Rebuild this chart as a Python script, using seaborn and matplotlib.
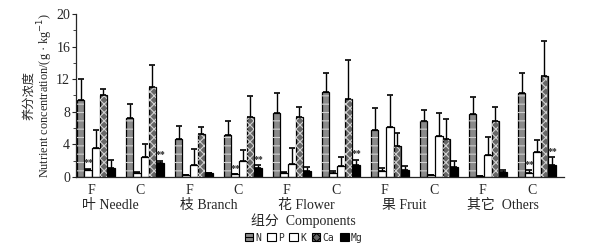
import pandas as pd
import matplotlib
matplotlib.use("Agg")
import matplotlib.pyplot as plt
from matplotlib.patches import Patch
import numpy as np
import seaborn as sb

# values (g/kg), order: Needle F, Needle C, Branch F, ...
organs = ["叶 Needle", "枝 Branch", "花 Flower", "果 Fruit", "其它  Others"]
treatments = ["F", "C"]
elements = ["N", "P", "K", "Ca", "Mg"]

N = [9.5, 7.2, 4.7, 5.1, 7.8, 10.4, 5.7, 6.8, 7.7, 10.3]
N_err = [2.5, 1.7, 1.5, 1.7, 2.5, 2.3, 2.7, 1.4, 2.1, 2.4]
P = [0.8, 0.5, 0.25, 0.3, 0.5, 0.5, 0.7, 0.2, 0.1, 0.5]
P_err = [0.2, 0.1, 0.0, 0.0, 0.1, 0.2, 0.4, 0.0, 0.0, 0.3]
K = [3.5, 2.4, 1.5, 2.0, 1.6, 1.3, 6.1, 5.0, 2.7, 3.0]
K_err = [2.2, 1.6, 1.9, 1.3, 2.0, 1.1, 3.9, 2.9, 2.2, 1.5]
Ca = [10.0, 11.0, 5.3, 7.3, 7.3, 9.6, 3.8, 4.6, 6.9, 12.4]
Ca_err = [0.8, 2.7, 0.8, 2.6, 1.3, 4.8, 1.6, 2.5, 1.7, 4.3]
Mg = [1.1, 1.7, 0.5, 1.1, 0.7, 1.5, 0.9, 1.2, 0.6, 1.5]
Mg_err = [1.0, 0.3, 0.0, 0.3, 0.5, 0.6, 0.4, 0.7, 0.3, 0.9]

# significance marks: (sample index, element)
stars = [(0, "P"), (1, "Mg"), (3, "P"), (3, "Mg"), (5, "Mg"), (9, "P"), (9, "Mg")]

samples = [o + "-" + t for o in organs for t in treatments]
vals = {"N": N, "P": P, "K": K, "Ca": Ca, "Mg": Mg}
errs = {"N": N_err, "P": P_err, "K": K_err, "Ca": Ca_err, "Mg": Mg_err}

rows = []
for el in elements:
    for s, v in zip(samples, vals[el]):
        rows.append({"sample": s, "element": el, "value": v})
df = pd.DataFrame(rows)

sb.set_style("ticks")
plt.rcParams["font.family"] = ["Liberation Serif", "Noto Sans CJK SC"]
plt.rcParams["hatch.linewidth"] = 0.8

fig = plt.figure(figsize=(6.01, 2.45), dpi=100)
ax = fig.add_axes([0.126, 0.278, 0.812, 0.665])

face = {"N": "#8a8a8a", "P": "white", "K": "white", "Ca": "#666666", "Mg": "black"}
hatch_style = {"N": ("--", "#cfcfcf"), "Ca": ("xxxx", "#d0d0d0")}

sb.barplot(data=df, x="sample", y="value", hue="element", order=samples,
           hue_order=elements, palette=face, width=0.78, edgecolor="black",
           linewidth=0.9, legend=False, ax=ax, errorbar=None)

for el, cont in zip(elements, ax.containers):
    xs = [b.get_x() + b.get_width() / 2 for b in cont]
    w = cont[0].get_width()
    if el in hatch_style:
        h, c = hatch_style[el]
        ax.bar(xs, vals[el], width=w * 0.8, color="none", hatch=h,
               edgecolor=c, linewidth=0, zorder=3)
    ax.errorbar(xs, vals[el], yerr=[np.zeros(len(xs)), errs[el]], fmt="none",
                ecolor="black", elinewidth=1.0, capsize=2.5, capthick=1.2, zorder=4)
    for i, e in stars:
        if e == el:
            ax.text(xs[i], vals[el][i] + errs[el][i] + 0.2, "**", ha="center",
                    va="bottom", fontsize=7, fontweight="bold")

ax.set_ylim(0, 20)
ax.set_xlim(-0.41, 9.55)
ax.set_yticks([0, 4, 8, 12, 16, 20])
ax.set_yticks(np.arange(0, 21, 2), minor=True)
ax.set_xticks(np.arange(len(samples)) - 0.1)
ax.set_xticklabels(treatments * len(organs), fontsize=10)
ax.tick_params(axis="x", length=0, pad=5)
ax.tick_params(axis="y", labelsize=10, length=3, width=0.8, pad=1)
ax.tick_params(axis="y", which="minor", length=2)
sb.despine(ax=ax, top=True, right=True)
ax.spines["left"].set_linewidth(0.9)
ax.spines["bottom"].set_linewidth(0.9)

ax.set_xlabel("")
ax.set_ylabel("养分浓度\nNutrient concentration/(g · kg$^{-1}$)", fontsize=8.8,
              linespacing=1.05, labelpad=0.5)

# organ labels under each F/C pair
for k, org in enumerate(organs):
    ax.text(2 * k + 0.5 - 0.2, -0.175, org, transform=ax.get_xaxis_transform(),
            ha="center", va="center", fontsize=10)
fig.text(0.505, 0.10, "组分  Components", ha="center", va="center", fontsize=10)

handles = [Patch(facecolor=face[e], edgecolor="black", linewidth=0.8,
                 hatch=hatch_style.get(e, ("", None))[0]) for e in elements]
fig.legend(handles, elements, loc="center", bbox_to_anchor=(0.505, 0.03), ncol=5,
           frameon=False, handlelength=0.9, handleheight=0.9,
           handletextpad=0.2, columnspacing=0.6, borderpad=0,
           prop={"family": ["DejaVu Sans Mono"], "size": 7})

plt.savefig("out.png", dpi=100)
